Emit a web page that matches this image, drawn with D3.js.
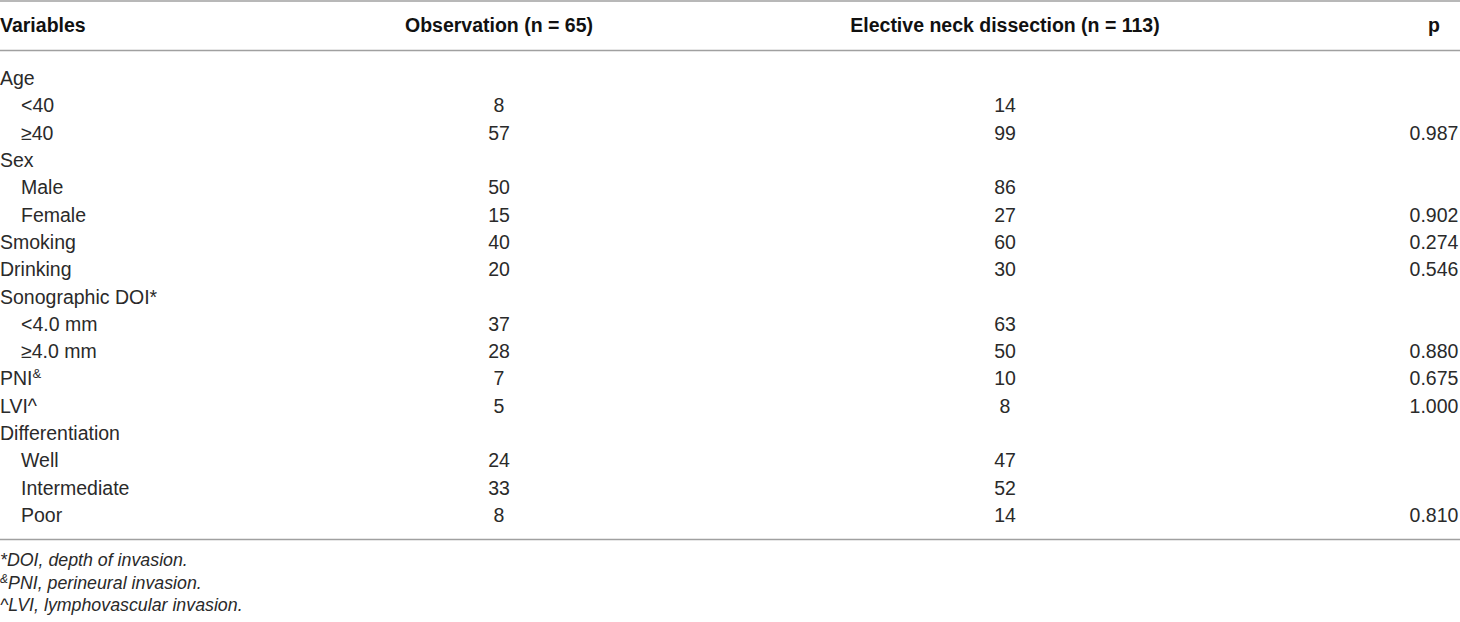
<!DOCTYPE html>
<html>
<head>
<meta charset="utf-8">
<script src="https://cdnjs.cloudflare.com/ajax/libs/d3/7.8.5/d3.min.js"></script>
<style>
  body { margin: 0; background: #fff; }
  svg { display: block; font-family: "Liberation Sans", Arial, Helvetica, sans-serif; }
</style>
</head>
<body>
<div id="table"></div>
<script>
// table contents
var headers = ["Variables", "Observation (n = 65)", "Elective neck dissection (n = 113)", "p"];
var rowLabels = ["Age", "<40", "≥40", "Sex", "Male", "Female", "Smoking", "Drinking",
  "Sonographic DOI", "<4.0 mm", "≥4.0 mm", "PNI", "LVI", "Differentiation",
  "Well", "Intermediate", "Poor"];
var rowMarks = ["", "", "", "", "", "", "", "", "*", "", "", "&", "^", "", "", "", ""];
var subRow = [0, 1, 1, 0, 1, 1, 0, 0, 0, 1, 1, 0, 0, 0, 1, 1, 1];
var observation = ["", "8", "57", "", "50", "15", "40", "20", "", "37", "28", "7", "5", "", "24", "33", "8"];
var electiveND = ["", "14", "99", "", "86", "27", "60", "30", "", "63", "50", "10", "8", "", "47", "52", "14"];
var pValues = ["", "", "0.987", "", "", "0.902", "0.274", "0.546", "", "", "0.880", "0.675", "1.000", "", "", "", "0.810"];
var footMarks = ["*", "&", "^"];
var footTexts = ["DOI, depth of invasion.", "PNI, perineural invasion.", "LVI, lymphovascular invasion."];

var width = 1460, height = 622;
var textColor = "#2a2a2a", ruleColor = "#a0a0a0";

var svg = d3.select("#table").append("svg")
    .attr("width", width)
    .attr("height", height);

// row baselines
var y = d3.scaleLinear()
    .domain([0, rowLabels.length - 1])
    .range([85, 522]);

// column anchors: label column left, others centred
var colX = d3.scaleOrdinal()
    .domain(["label", "obs", "end", "p"])
    .range([0, 499, 1005, 1434]);

// rules
[1, 50.5, 539.5].forEach(function (ry) {
  svg.append("line")
     .attr("x1", 0).attr("x2", width)
     .attr("y1", ry).attr("y2", ry)
     .style("stroke", ruleColor)
     .style("stroke-width", "1.5px");
});

// header
svg.selectAll(".head")
    .data(headers)
  .enter()
    .append("text")
    .attr("class", "head")
    .attr("x", function (d, i) { return colX(colX.domain()[i]); })
    .attr("y", 32)
    .attr("text-anchor", function (d, i) { return i == 0 ? "start" : "middle"; })
    .style("font-size", "19.5px")
    .style("font-weight", "bold")
    .style("fill", "#111")
    .text(function (d) { return d; });

// body rows
var rows = svg.selectAll(".row")
    .data(rowLabels)
  .enter()
    .append("g")
    .attr("class", "row")
    .attr("transform", function (d, i) { return "translate(0," + y(i) + ")"; })
    .style("font-size", "19.5px")
    .style("fill", textColor);

var labels = rows.append("text")
    .attr("x", function (d, i) { return subRow[i] ? 21 : 0; })
    .text(function (d) { return d; });

// only the ampersand is set as a small superscript; * and ^ sit high already
labels.append("tspan")
    .attr("dy", function (d, i) { return rowMarks[i] == "&" ? "-7px" : "0"; })
    .style("font-size", function (d, i) { return rowMarks[i] == "&" ? "13px" : "19.5px"; })
    .text(function (d, i) { return rowMarks[i]; });

rows.append("text")
    .attr("x", colX("obs"))
    .attr("text-anchor", "middle")
    .text(function (d, i) { return observation[i]; });

rows.append("text")
    .attr("x", colX("end"))
    .attr("text-anchor", "middle")
    .text(function (d, i) { return electiveND[i]; });

rows.append("text")
    .attr("x", colX("p"))
    .attr("text-anchor", "middle")
    .text(function (d, i) { return pValues[i]; });

// footnotes
var notes = svg.selectAll(".note")
    .data(footTexts)
  .enter()
    .append("text")
    .attr("class", "note")
    .attr("x", 0)
    .attr("y", function (d, i) { return 566 + i * 22.5; })
    .style("font-size", "17.8px")
    .style("font-style", "italic")
    .style("fill", textColor);

notes.append("tspan")
    .attr("dy", function (d, i) { return footMarks[i] == "&" ? "-6px" : "0"; })
    .style("font-size", function (d, i) { return footMarks[i] == "&" ? "12px" : "17.8px"; })
    .text(function (d, i) { return footMarks[i]; });

notes.append("tspan")
    .attr("dy", function (d, i) { return footMarks[i] == "&" ? "6px" : "0"; })
    .text(function (d) { return d; });
</script>
</body>
</html>
